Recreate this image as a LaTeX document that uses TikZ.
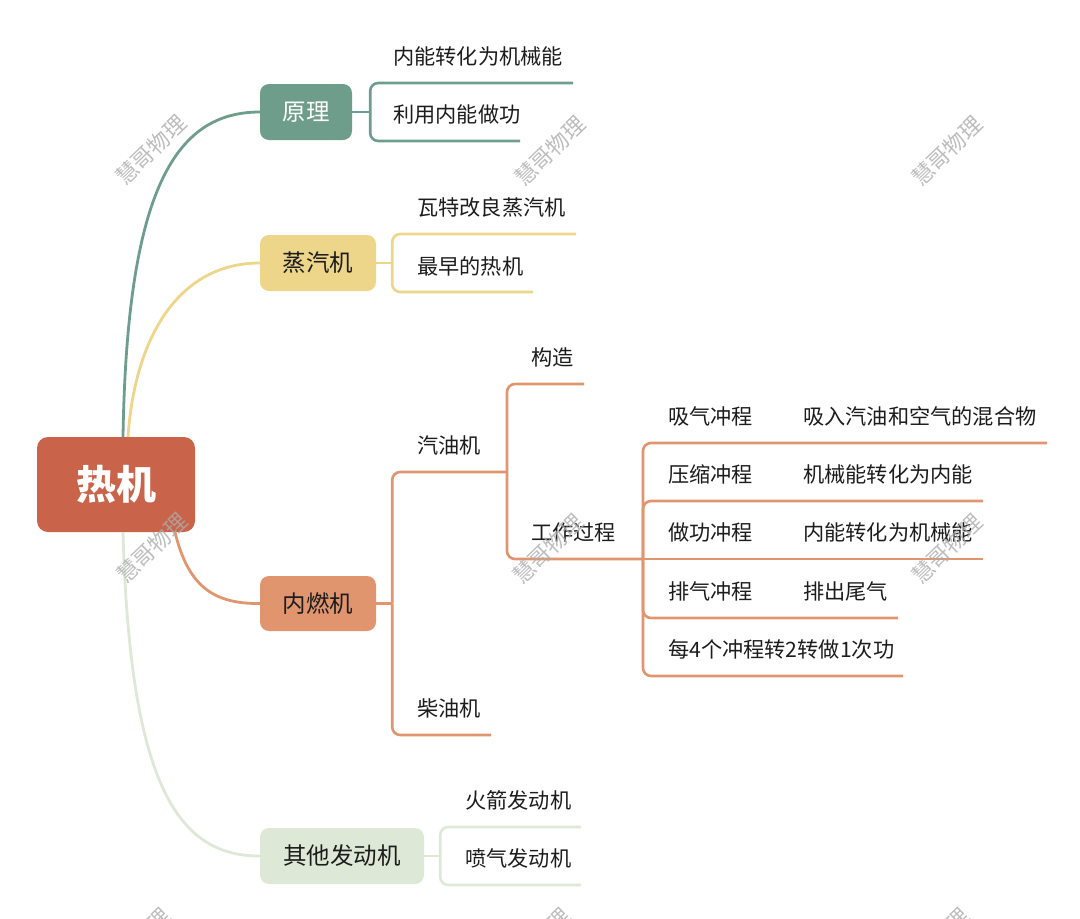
\documentclass[tikz,border=0pt]{standalone}
\usepackage{fontspec}
\setmainfont{Noto Sans CJK SC}

\definecolor{rootred}{HTML}{C9644B}
\definecolor{sage}{HTML}{6F9D8B}
\definecolor{straw}{HTML}{EDD589}
\definecolor{salmon}{HTML}{E1956F}
\definecolor{mint}{HTML}{DEE8D6}
\definecolor{inkdark}{HTML}{1C1C1C}

\begin{document}
\begin{tikzpicture}[x=1pt,y=-1pt,
    topic/.style={rounded corners=9pt, minimum height=56pt, inner sep=0pt,
      font=\fontsize{23.5}{24}\selectfont, text=inkdark},
    leaf/.style={anchor=west, inner sep=0pt, font=\fontsize{21.2}{22}\selectfont, text=inkdark},
    link/.style={line width=2.8pt},
    branch/.style={line width=2.6pt, rounded corners=8pt},
    wmark/.style={rotate=44, text=gray!65, opacity=0.8, font=\fontsize{22}{22}\selectfont}]

\useasboundingbox (0,0) rectangle (1080,919);

% main topics
\node[rounded corners=11pt, fill=rootred, minimum width=158pt, minimum height=95pt,
  text=white, font=\fontsize{40}{40}\selectfont\bfseries] (root) at (116,484.5) {热机};
\node[topic, fill=sage, text=white, minimum width=92pt] (yuanli) at (306,112) {原理};
\node[topic, fill=straw, minimum width=116pt] (zqj) at (318,263) {蒸汽机};
\node[topic, fill=salmon, minimum width=116pt, minimum height=55pt] (nrj) at (318,603.5) {内燃机};
\node[topic, fill=mint, minimum width=164pt] (qita) at (342,856) {其他发动机};

% curved links from the root
\draw[link, sage] ([xshift=7pt]root.north) .. controls (127,190) and (175,112) .. (yuanli.west);
\draw[link, straw] ([xshift=12pt]root.north) .. controls (135,335) and (180,263) .. (zqj.west);
\draw[link, salmon] ([xshift=59pt]root.south) .. controls (188,585) and (212,604) .. (nrj.west);
\draw[link, mint] ([xshift=7pt]root.south) .. controls (130,790) and (180,856) .. (qita.west);

% 原理
\node[leaf] (yl1) at (393,56) {内能转化为机械能};
\node[leaf] (yl2) at (393,114) {利用内能做功};
\coordinate (yl1e) at (573,83);
\coordinate (yl2e) at (520,141);
\draw[branch, sage] (yuanli.east) -- ++(18,0) coordinate (ylj);
\draw[branch, sage] (ylj) |- (yl1e);
\draw[branch, sage] (ylj) |- (yl2e);

% 蒸汽机
\node[leaf] (zq1) at (417,207) {瓦特改良蒸汽机};
\node[leaf] (zq2) at (417,266) {最早的热机};
\coordinate (zq1e) at (576,234);
\coordinate (zq2e) at (533,292);
\draw[branch, straw] (zqj.east) -- ++(16,0) coordinate (zqjj);
\draw[branch, straw] (zqjj) |- (zq1e);
\draw[branch, straw] (zqjj) |- (zq2e);

% 内燃机
\node[leaf] (qyj) at (417,445) {汽油机};
\node[leaf] (cyj) at (417,708) {柴油机};
\coordinate (qyje) at (507,472);
\coordinate (cyje) at (491,735);
\draw[branch, salmon] (nrj.east) -- ++(16,0) coordinate (nrjj);
\draw[branch, salmon] (nrjj) |- (qyje);
\draw[branch, salmon] (nrjj) |- (cyje);

\node[leaf] (gz) at (531,357) {构造};
\node[leaf] (gzgc) at (531,532) {工作过程};
\coordinate (gze) at (584,384);
\coordinate (gzgcj) at (643,559);
\draw[branch, salmon] (qyje) |- (gze);
\draw[branch, salmon] (qyje) |- (gzgcj);

% four strokes
\node[leaf] (cx1) at (668,416) {吸气冲程};
\node[leaf] (cx2) at (668,474) {压缩冲程};
\node[leaf] (cx3) at (668,532) {做功冲程};
\node[leaf] (cx4) at (668,591) {排气冲程};
\node[leaf] (cx5) at (668,649) {每4个冲程转2转做1次功};
\node[leaf] (sm1) at (803,416) {吸入汽油和空气的混合物};
\node[leaf] (sm2) at (803,474) {机械能转化为内能};
\node[leaf] (sm3) at (803,532) {内能转化为机械能};
\node[leaf] (sm4) at (803,591) {排出尾气};
\coordinate (cx1e) at (1047,443);
\coordinate (cx2e) at (983,501);
\coordinate (cx3e) at (983,559);
\coordinate (cx4e) at (898,618);
\coordinate (cx5e) at (903,676);
\draw[branch, salmon] (gzgcj) |- (cx1e);
\draw[branch, salmon] (gzgcj) |- (cx2e);
\draw[branch, salmon] (gzgcj) -- (cx3e);
\draw[branch, salmon] (gzgcj) |- (cx4e);
\draw[branch, salmon] (gzgcj) |- (cx5e);

% 其他发动机
\node[leaf] (hj) at (465,800) {火箭发动机};
\node[leaf] (pq) at (465,858) {喷气发动机};
\coordinate (hje) at (581,827);
\coordinate (pqe) at (581,885);
\draw[branch, mint] (qita.east) -- ++(16,0) coordinate (qtj);
\draw[branch, mint] (qtj) |- (hje);
\draw[branch, mint] (qtj) |- (pqe);

% watermarks
\begin{scope}
  \clip (0,0) rectangle (1080,919);
  \foreach \wx/\wy in {151/150, 550/151, 947/151, 152/548, 548/549, 947/549, 135/943, 535/943, 934/943}
    \node[wmark] at (\wx,\wy) {慧哥物理};
\end{scope}
\end{tikzpicture}
\end{document}
